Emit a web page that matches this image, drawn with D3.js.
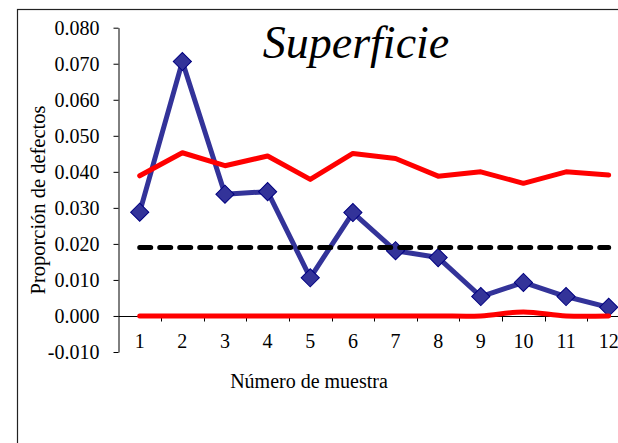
<!DOCTYPE html>
<html>
<head>
<meta charset="utf-8">
<script src="https://cdn.jsdelivr.net/npm/d3@7/dist/d3.min.js"></script>
<style>
  html, body { margin: 0; padding: 0; background: #fff; }
  svg { display: block; }
  text { font-variant-ligatures: none; }
</style>
</head>
<body>
<script>
// ---- Data ----
const samples = [1, 2, 3, 4, 5, 6, 7, 8, 9, 10, 11, 12];
const proportion = [0.0288, 0.0706, 0.0338, 0.0345, 0.0106, 0.0287, 0.0181, 0.0162, 0.0054, 0.0093, 0.0054, 0.0024];
const ucl = [0.0389, 0.0453, 0.0417, 0.0444, 0.0379, 0.0451, 0.0437, 0.0388, 0.0400, 0.0368, 0.0400, 0.0391];
const lcl = [0, 0, 0, 0, 0, 0, 0, 0, 0, 0.0011, 0, 0];
const centerLine = 0.0190;
const yTicks = [-0.010, 0.000, 0.010, 0.020, 0.030, 0.040, 0.050, 0.060, 0.070, 0.080];
const titleText = "Superficie";
const xTitle = "Número de muestra";
const yTitle = "Proporción de defectos";

const SERIF = "'Liberation Serif', 'Times New Roman', 'DejaVu Serif', serif";

// ---- Layout ----
const W = 618, H = 443;
const svg = d3.select("body").append("svg").attr("width", W).attr("height", H);

// outer chart border (extends past window)
svg.append("rect")
  .attr("x", 17.5).attr("y", 9.5)
  .attr("width", 700).attr("height", 600)
  .attr("fill", "none").attr("stroke", "#222").attr("stroke-width", 1.2);

const x = d3.scaleBand().domain(samples).range([118.4, 630]).paddingInner(0).paddingOuter(0);
const cx = d => x(d) + x.bandwidth() / 2;
const y = d3.scaleLinear().domain([-0.01, 0.08]).range([352, 27.7]);

// y axis
const yAxis = d3.axisLeft(y)
  .tickValues(yTicks)
  .tickSize(5)
  .tickSizeOuter(0)
  .tickPadding(14)
  .tickFormat(d => d.toFixed(3));
const gy = svg.append("g").attr("transform", "translate(118.5,0)").call(yAxis);
gy.attr("font-family", null).attr("font-size", null);
gy.selectAll("text")
  .style("font-family", SERIF).style("font-size", "20px").attr("fill", "#000");
gy.selectAll("line,path").attr("stroke", "#000");

// x axis at y=0 with ticks at category boundaries
const y0 = Math.round(y(0)) + 0.5;
svg.append("line")
  .attr("x1", 118.5).attr("x2", 630).attr("y1", y0).attr("y2", y0)
  .attr("stroke", "#000");
svg.append("g").selectAll("line").data(samples.slice(1)).join("line")
  .attr("x1", d => Math.round(x(d)) + 0.5).attr("x2", d => Math.round(x(d)) + 0.5)
  .attr("y1", y0).attr("y2", y0 + 5)
  .attr("stroke", "#000");
svg.append("g").selectAll("text").data(samples).join("text")
  .attr("x", d => cx(d)).attr("y", 348)
  .attr("text-anchor", "middle")
  .style("font-family", SERIF).style("font-size", "20px")
  .text(d => d);

// axis titles
svg.append("text")
  .attr("x", 309).attr("y", 388)
  .attr("text-anchor", "middle")
  .style("font-family", SERIF).style("font-size", "20px")
  .text(xTitle);
svg.append("text")
  .attr("transform", "translate(44.5,200) rotate(-90)")
  .attr("text-anchor", "middle")
  .style("font-family", SERIF).style("font-size", "20.5px")
  .text(yTitle);

// title
svg.append("text")
  .attr("x", 356).attr("y", 58)
  .attr("text-anchor", "middle")
  .style("font-family", SERIF).style("font-size", "46px").style("font-style", "italic")
  .style("font-variant-ligatures", "none")
  .text(titleText);

// proportion series (blue)
const line = d3.line().x((d, i) => cx(samples[i])).y(d => y(d));
svg.append("path")
  .datum(proportion)
  .attr("d", line)
  .attr("fill", "none").attr("stroke", "#333399").attr("stroke-width", 5)
  .attr("stroke-linejoin", "round");
svg.append("g").selectAll("path").data(proportion).join("path")
  .attr("d", d3.symbol(d3.symbolSquare, 165)())
  .attr("transform", (d, i) => `translate(${cx(samples[i])},${y(d)}) rotate(45)`)
  .attr("fill", "#333399").attr("stroke", "#000080").attr("stroke-width", 1);

// center line (dashed)
svg.append("line")
  .attr("x1", cx(samples[0])).attr("x2", cx(samples[samples.length - 1]))
  .attr("y1", y(centerLine)).attr("y2", y(centerLine))
  .attr("stroke", "#000").attr("stroke-width", 5)
  .attr("stroke-dasharray", "11,9").attr("stroke-linecap", "round");

// UCL
svg.append("path")
  .datum(ucl)
  .attr("d", line)
  .attr("fill", "none").attr("stroke", "#ff0000").attr("stroke-width", 5)
  .attr("stroke-linejoin", "round").attr("stroke-linecap", "round");

// LCL (smoothed)
const smooth = d3.line().x((d, i) => cx(samples[i])).y(d => y(d)).curve(d3.curveCatmullRom.alpha(0.5));
svg.append("path")
  .datum(lcl)
  .attr("d", smooth)
  .attr("fill", "none").attr("stroke", "#ff0000").attr("stroke-width", 5)
  .attr("stroke-linejoin", "round").attr("stroke-linecap", "round");
</script>
</body>
</html>
